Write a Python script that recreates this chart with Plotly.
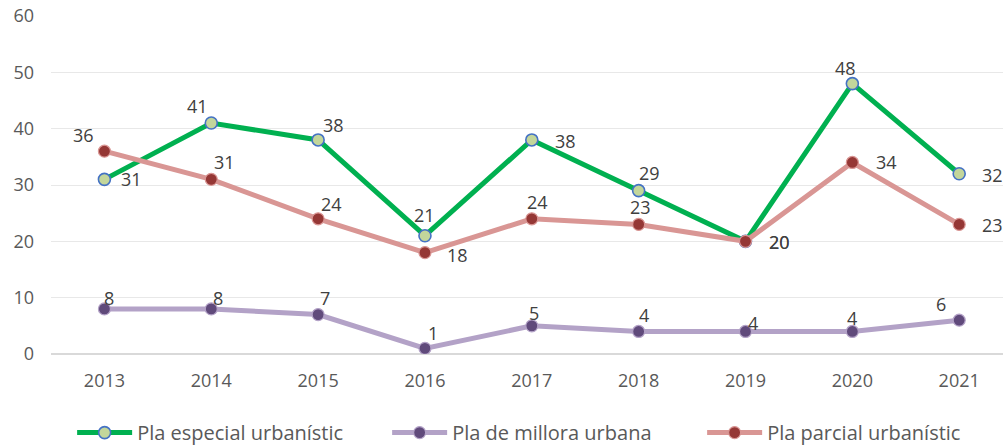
import plotly.graph_objects as go

# Annual counts of approved urban planning instruments
years = ["2013", "2014", "2015", "2016", "2017", "2018", "2019", "2020", "2021"]
especial = [31, 41, 38, 21, 38, 29, 20, 48, 32]
millora = [8, 8, 7, 1, 5, 4, 4, 4, 6]
parcial = [36, 31, 24, 18, 24, 23, 20, 34, 23]
y_ticks = [0, 10, 20, 30, 40, 50, 60]

FONT = "Open Sans"
TEXT_COLOR = "#404040"
AXIS_COLOR = "#595959"

# Per-point label offsets (pixels) for the value labels
off_especial = [(27, 0), (-14, 17), (15, 15), (0, 21), (34, -1), (11, 18), (34, -1), (-7, 16), (33, -1)]
off_millora = [(5, 11), (7, 11), (7, 17), (8, 15), (2, 13), (5, 16), (7, 8), (0, 13), (-18, 16)]
off_parcial = [(-21, 16), (13, 17), (13, 15), (33, -2), (6, 17), (2, 17), (34, -1), (34, 0), (33, -1)]

series = [
    ("Pla especial urbanístic", especial, "#00B050", 5, "#C3D69B", "#4472C4", 1.6, off_especial),
    ("Pla de millora urbana", millora, "#B3A2C7", 5, "#604A7B", "#B3A2C7", 1.2, off_millora),
    ("Pla parcial urbanístic", parcial, "#D99694", 5, "#953735", "#D99694", 1.2, off_parcial),
]

fig = go.Figure()
annotations = []
for name, vals, lcol, lw, mfill, mline, mlw, offs in series:
    fig.add_trace(go.Scatter(
        x=years, y=vals, name=name, mode="lines+markers",
        line=dict(color=lcol, width=lw),
        marker=dict(size=12, color=mfill, line=dict(color=mline, width=mlw)),
    ))
    # category index positions keep year strings from being read as numbers
    for i, (v, (dx, dy)) in enumerate(zip(vals, offs)):
        annotations.append(dict(
            x=i, y=v, xref="x", yref="y", text=str(v), showarrow=False,
            xshift=dx, yshift=dy,
            font=dict(family=FONT, size=18, color=TEXT_COLOR),
        ))

fig.update_layout(
    width=1003, height=446,
    margin=dict(l=51, r=0, t=16, b=92, autoexpand=False),
    paper_bgcolor="white", plot_bgcolor="white",
    font=dict(family=FONT, size=18, color=AXIS_COLOR),
    showlegend=True,
    legend=dict(
        orientation="h", x=0.543, xanchor="center", xref="container",
        y=0.03, yanchor="middle", yref="container",
        font=dict(family=FONT, size=20, color=AXIS_COLOR),
        itemwidth=55, entrywidth=245, entrywidthmode="pixels",
        traceorder="normal",
    ),
    annotations=annotations,
    xaxis=dict(
        type="category", range=[-0.5, 8.41],
        showgrid=False, zeroline=False, showline=False,
        ticks="", ticklabelstandoff=14,
        tickfont=dict(family=FONT, size=18, color=AXIS_COLOR),
    ),
    yaxis=dict(
        range=[0, 60], tickvals=y_ticks,
        showgrid=True, gridcolor="#E8E8E8", gridwidth=1.3,
        zeroline=True, zerolinecolor="#D9D9D9", zerolinewidth=2,
        showline=False, ticks="", ticklabelstandoff=16,
        tickfont=dict(family=FONT, size=18, color=AXIS_COLOR),
    ),
)

fig.write_html("out.html")
